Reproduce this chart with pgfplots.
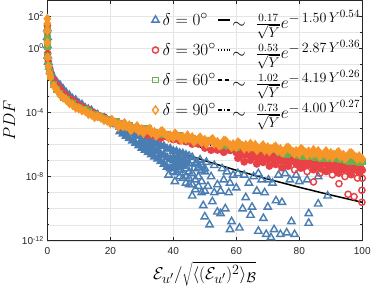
\RequirePackage{fix-cm}
\documentclass[border=0pt]{standalone}
\usepackage[no-math]{fontspec}
\usepackage{pgfplots}
\pgfplotsset{compat=1.18}
\newfontfamily\hv{Liberation Sans}
\DeclareMathSizes{17}{17}{14}{11}
\definecolor{cblue}{RGB}{74,126,178}
\definecolor{cred}{RGB}{232,65,70}
\definecolor{cgreen}{RGB}{106,176,76}
\definecolor{corange}{RGB}{247,150,40}
\definecolor{axgray}{RGB}{38,38,38}
\pgfplotsset{
 mleg/.style={legend image code/.code={\draw[##1] plot coordinates {(0pt,0pt)}; \path (-4pt,0pt) (5pt,0pt);}},
 lleg/.style={legend image code/.code={\draw[##1] (0pt,0pt) -- (12pt,0pt);}},
 sblue/.style={only marks, mark=triangle, mark size=4.2pt, cblue, line width=1.4pt},
 sred/.style={only marks, mark=o, mark size=3.1pt, cred, line width=1.4pt},
 sgreen/.style={only marks, mark=square, mark size=2.7pt, cgreen, line width=1.4pt},
 sorange/.style={only marks, mark=diamond, mark size=4pt, corange, line width=1.4pt},
 lz/.style={black, line width=1.5pt, no marks},
 lt/.style={black, line width=1.5pt, no marks, dash pattern=on 1.3pt off 1.5pt},
 ls/.style={black, line width=1.5pt, no marks, dash pattern=on 4pt off 3pt},
 ln/.style={black, line width=1.5pt, no marks, dash pattern=on 4pt off 2pt on 1.2pt off 2pt},
}
\begin{document}
\begin{tikzpicture}
\begin{axis}[
 scale only axis, width=313pt, height=239pt,
 xmin=0, xmax=100, ymode=log, ymin=1e-12, ymax=1e3,
 xtick={0,20,40,60,80,100}, xticklabels={0,20,40,60,80,100},
 ytick={1e-12,1e-8,1e-4,1,1e2},
 yticklabels={10\textsuperscript{-12},10\textsuperscript{-8},10\textsuperscript{-4},10\textsuperscript{0},10\textsuperscript{2}},
 minor ytick={1e-11,1e-10,1e-9,1e-7,1e-6,1e-5,1e-3,1e-2,1e-1,1e1,1e3},
 grid=both, major grid style={black!10}, minor grid style={black!10},
 tick align=inside, major tick length=3.5pt, minor tick length=2pt,
 tick style={axgray, line width=0.5pt},
 axis line style={axgray, line width=0.6pt},
 ticklabel style={font=\hv\fontsize{10}{12}\selectfont, text=axgray},
 xticklabel style={yshift=-3pt},
 xlabel={$\mathcal{E}_{u'}/\sqrt{\langle(\mathcal{E}_{u'})^2\rangle_{\mathcal{B}}}$},
 ylabel={$PDF$},
 label style={font=\fontsize{17}{20}\selectfont},
 legend columns=2,
 legend cell align=left,
 legend style={draw=none, fill=none, at={(1,1)}, anchor=north east, yshift=-8pt, font=\fontsize{17}{20}\selectfont, row sep=7pt, inner sep=0pt, nodes={inner sep=1.5pt}, /tikz/every even column/.append style={column sep=0pt}},
]
% delta = 0 (dense part)
\addplot[sblue, mark=triangle*, forget plot] coordinates {
(0.0001,17.0)(0.001,5.13)(0.01,1.51)(0.1,0.347)(0.3,0.141)(0.6,7.08e-2)
(1,3.98e-2)(2,1.55e-2)(3,7.94e-3)(4,5.13e-3)(5,2.95e-3)(6,1.70e-3)(7,1.17e-3)(8,7.24e-4)(9,5.89e-4)(10,3.80e-4)
(11,3.09e-4)(12,1.95e-4)(13,1.62e-4)(14,1.35e-4)(15,8.32e-5)(16,7.24e-5)(17,4.79e-5)(18,4.57e-5)(19,3.31e-5)(20,2.88e-5)
(21,1.95e-5)(22,1.74e-5)
(23,1.23e-5)(23,6.46e-6)(24,8.71e-6)(24,4.68e-6)(25,8.51e-6)(25,3.39e-6)(26,5.50e-6)(26,2.45e-6)(27,5.25e-6)(27,1.74e-6)(28,3.55e-6)(28,1.23e-6)(29,3.47e-6)(29,8.71e-7)
(30,2.24e-6)(30,6.03e-7)(30,1.12e-6)(31,2.24e-6)(31,4.47e-7)(31,1.0e-6)(32,1.55e-6)(32,3.24e-7)(32,7.94e-7)(33,1.62e-6)(33,2.40e-7)(33,5.62e-7)(34,1.12e-6)(34,1.74e-7)(34,4.47e-7)(35,1.12e-6)(35,1.29e-7)(35,3.98e-7)
(36,8.13e-7)(36,8.91e-8)(36,2.51e-7)(37,7.94e-7)(37,6.03e-8)(37,2.24e-7)(38,5.50e-7)(38,3.98e-8)(38,1.58e-7)(39,5.50e-7)(39,3.16e-8)(39,1.26e-7)
(40,3.98e-7)(40,1.0e-7)(40,1.58e-7)(40,4.47e-8)
(41,3.72e-7)(41,7.94e-8)(41,1.26e-7)(41,3.55e-8)
(42,2.95e-7)(42,6.31e-8)(42,1.26e-7)
(43,2.75e-7)(43,4.47e-8)(43,1.0e-7)
(44,2.24e-7)(44,7.94e-8)
};
% delta = 0 (sparse tail)
\addplot[sblue, forget plot] coordinates {
(40,2.00e-8)(41,1.78e-8)(42,1.0e-8)(42,2.51e-8)(43,7.94e-9)(43,1.78e-8)(44,3.98e-9)(44,3.16e-8)(44,1.0e-8)
(45,1.91e-7)(45,3.16e-9)(45,2.00e-8)(45,6.31e-8)(45,7.94e-9)
(38.5,1.26e-8)(40.5,5.01e-9)
(46,1.58e-7)(46,6.31e-10)(46,1.0e-7)(46,1.58e-8)(46,3.16e-9)
(46.5,3.16e-8)(47,1.58e-9)(47,6.31e-8)(47,6.31e-9)(47.5,7.94e-8)
(48,1.0e-8)(48,3.98e-8)(48,2.51e-9)(48.5,1.12e-7)
(49,2.51e-8)(49,5.01e-8)(49,5.01e-9)(49,1.0e-9)(49.5,1.58e-10)
(50,2.00e-8)(50,3.16e-8)(50,1.26e-9)(50,3.16e-11)(50.5,7.94e-8)
(51,2.51e-9)(51.5,1.0e-11)(52,1.0e-8)(52.4,2.75e-10)(53,5.01e-8)(53,1.0e-9)
(54,3.16e-9)(54,6.31e-11)(55,1.26e-9)(55,5.01e-11)(55.5,3.16e-8)(56,6.31e-9)(56.5,1.0e-10)
(57,2.00e-8)(57.6,1.0e-9)(58,5.01e-12)(58,3.98e-9)(58.5,1.58e-11)(59,1.26e-8)
(60,2.00e-9)(60.5,1.58e-8)(61,6.31e-12)(62,1.0e-10)(62.5,1.26e-8)(63,5.01e-10)
(64,3.98e-9)(64.5,3.98e-11)(65,1.26e-10)(65.5,1.0e-8)(66.5,1.26e-9)(67,3.98e-12)(67,1.58e-8)
(68,6.31e-9)(68.6,2.51e-11)(69,1.0e-9)(69.5,2.51e-12)(70,1.26e-10)(70.2,6.31e-9)
(71,1.58e-12)(71.5,3.98e-9)(72,5.01e-12)(72.6,3.16e-10)(73.4,1.26e-8)(74,2.51e-12)(74.5,2.51e-10)
(75.5,1.58e-8)(76,3.16e-12)(77,6.31e-9)(77.5,1.58e-11)(78.5,2.51e-12)(79,1.26e-8)(80,5.01e-9)
(82.5,6.31e-9)(83,5.01e-11)(83,1.26e-11)(86,1.0e-8)(86,2.00e-10)(89,6.31e-10)
};
% delta = 30 (band)
\addplot[sred, mark=*, forget plot] coordinates {
(0.0001,28.2)(0.001,10.0)(0.01,3.09)(0.1,0.479)(0.3,0.151)(0.6,6.31e-2)
(1,3.09e-2)(2,1.10e-2)(3,5.37e-3)(4,3.16e-3)(5,1.70e-3)(6,1.17e-3)(7,7.24e-4)(8,6.03e-4)(9,4.17e-4)(10,2.82e-4)
(11,2.34e-4)(12,1.58e-4)(13,1.55e-4)(14,1.07e-4)(15,9.12e-5)(16,6.31e-5)(17,5.75e-5)(18,5.37e-5)(19,3.63e-5)(20,3.39e-5)
(21,2.40e-5)(22,2.51e-5)(23,1.95e-5)(24,1.86e-5)(25,1.32e-5)(26,1.26e-5)(27,9.55e-6)(28,1.07e-5)(29,8.71e-6)(30,6.61e-6)
(32,3.80e-6)(34,3.63e-6)(36,2.51e-6)(38,3.02e-6)(40,2.04e-6)(42,1.74e-6)(44,1.51e-6)(46,1.07e-6)(48,1.10e-6)(50,6.03e-7)
(52,4.47e-7)(54,4.57e-7)(56,3.31e-7)(58,4.37e-7)(60,3.16e-7)
(61,1.78e-7)(62,3.09e-7)(63,2.24e-7)(64,2.88e-7)(65,1.55e-7)(66,2.00e-7)(67,1.23e-7)(68,2.40e-7)(69,1.91e-7)(70,1.17e-7)
(71,1.35e-7)(72,8.32e-8)(73,1.55e-7)(74,9.55e-8)(75,1.15e-7)(76,6.92e-8)(77,8.51e-8)(78,1.17e-7)(79,6.03e-8)(80,7.94e-8)
(81,3.98e-8)(82,7.94e-8)(83,5.50e-8)(84,7.76e-8)(85,3.80e-8)(86,5.37e-8)(87,3.02e-8)(88,7.08e-8)(89,5.50e-8)(90,3.09e-8)
(91,3.80e-8)(92,2.14e-8)(93,4.79e-8)(94,2.75e-8)(95,3.47e-8)(96,1.91e-8)(97,2.57e-8)(98,3.80e-8)(99,1.78e-8)(100,2.51e-8)
(60.5,1.41e-7)(62.5,8.32e-8)(64.5,1.05e-7)(66.5,6.17e-8)(68.5,7.76e-8)(70.5,4.57e-8)(72.5,5.75e-8)(74.5,3.55e-8)(76.5,4.47e-8)
(80.5,3.39e-8)(84.5,2.69e-8)(88.5,2.09e-8)(92.5,1.66e-8)(96.5,1.32e-8)
(61.5,4.07e-7)(63.5,3.55e-7)(65.5,3.02e-7)(67.5,2.63e-7)(69.5,2.24e-7)(71.5,1.95e-7)(73.5,1.74e-7)(75.5,1.51e-7)(77.5,1.32e-7)(79.5,1.15e-7)
(81.5,1.02e-7)(83.5,8.91e-8)(85.5,7.94e-8)(87.5,7.08e-8)(89.5,6.17e-8)(91.5,5.50e-8)(93.5,4.90e-8)(95.5,4.37e-8)(97.5,3.89e-8)(99.5,3.47e-8)
};
% delta = 30 (sparse lower edge and outliers)
\addplot[sred, forget plot] coordinates {
(78.5,2.69e-8)(82.5,2.09e-8)(86.5,1.62e-8)(90.5,1.29e-8)(94.5,1.02e-8)(98.5,8.13e-9)
(84.5,4.68e-9)(92.6,3.63e-9)(95.5,7.94e-10)(97.4,5.62e-10)(99.9,1.41e-9)(99.9,2.51e-10)(100,7.94e-9)
};
% delta = 60
\addplot[sgreen, mark=square*, forget plot] coordinates {
(0.0003,12.6)(0.002,3.98)(0.02,1.26)(0.1,0.324)(0.3,8.71e-2)(0.6,3.35e-2)
(1,1.74e-2)(2,5.75e-3)(3,2.69e-3)(4,1.62e-3)(5,8.91e-4)(6,6.92e-4)(7,4.57e-4)(8,3.63e-4)(9,2.45e-4)(10,2.00e-4)
(11,1.45e-4)(12,1.48e-4)(13,1.15e-4)(14,8.13e-5)(15,7.08e-5)(16,5.25e-5)(17,5.62e-5)(18,4.17e-5)(19,3.89e-5)(20,2.82e-5)
(21,2.75e-5)(22,2.69e-5)(23,1.95e-5)(24,1.91e-5)(25,1.41e-5)(26,1.55e-5)(27,1.26e-5)(28,1.26e-5)(29,9.55e-6)(30,9.55e-6)
(32,9.55e-6)(34,5.75e-6)(36,4.17e-6)(38,4.07e-6)(40,2.95e-6)(42,3.72e-6)(44,2.75e-6)(46,2.45e-6)(48,2.19e-6)(50,1.66e-6)
(52,1.74e-6)(54,1.10e-6)(56,8.51e-7)(58,8.71e-7)(60,6.76e-7)(62,8.71e-7)(64,6.61e-7)(66,6.17e-7)(68,5.75e-7)(70,4.57e-7)
(72,4.90e-7)(74,3.16e-7)(76,2.51e-7)(78,2.69e-7)(80,2.14e-7)(81,1.78e-7)(82,2.82e-7)(83,1.66e-7)(84,2.19e-7)(85,1.58e-7)
(86,2.09e-7)(87,1.41e-7)(88,2.00e-7)(89,1.32e-7)(90,1.58e-7)(91,1.26e-7)(92,1.74e-7)(93,1.12e-7)(94,1.15e-7)(95,1.05e-7)
(96,9.33e-8)(97,8.91e-8)(98,1.00e-7)(99,7.94e-8)(100,8.13e-8)
};
% delta = 90
\addplot[sorange, mark=diamond*, forget plot] coordinates {
(0.0001,70.8)(0.0003,35.5)(0.001,12.6)(0.01,2.29)(0.1,0.269)(0.3,7.41e-2)(0.6,2.88e-2)
(1,1.62e-2)(2,4.57e-3)(3,2.51e-3)(4,1.29e-3)(5,8.51e-4)(6,6.17e-4)(7,3.80e-4)(8,3.02e-4)(9,2.00e-4)(10,1.78e-4)
(11,1.35e-4)(12,1.23e-4)(13,8.13e-5)(14,7.41e-5)(15,5.13e-5)(16,5.89e-5)(17,4.68e-5)(18,3.39e-5)(19,3.09e-5)(20,2.24e-5)
(21,2.57e-5)(22,1.95e-5)(23,1.91e-5)(24,1.38e-5)(25,1.38e-5)(26,1.59e-5)(27,9.77e-6)(28,1.10e-5)(29,6.92e-6)(30,9.33e-6)
(31,7.24e-6)(32,8.32e-6)(33,5.37e-6)(34,6.03e-6)(35,4.27e-6)(36,6.31e-6)(37,5.25e-6)(38,3.63e-6)(39,3.80e-6)(40,2.69e-6)
(41,3.98e-6)(42,2.82e-6)(43,3.09e-6)(44,2.14e-6)(45,2.40e-6)(46,2.88e-6)(47,1.82e-6)(48,2.14e-6)(49,1.38e-6)(50,1.95e-6)
(51,1.55e-6)(52,1.91e-6)(53,1.15e-6)(54,1.45e-6)(55,9.55e-7)(56,1.70e-6)(57,1.38e-6)(58,9.33e-7)(59,1.05e-6)(60,6.92e-7)
(61,1.17e-6)(62,7.94e-7)(63,9.33e-7)(64,6.03e-7)(65,7.41e-7)(66,9.55e-7)(67,5.62e-7)(68,7.08e-7)(69,4.27e-7)(70,6.76e-7)
(71,5.25e-7)(72,6.61e-7)(73,4.07e-7)(74,5.13e-7)(75,3.47e-7)(76,6.17e-7)(77,5.13e-7)(78,3.47e-7)(79,3.98e-7)(80,2.69e-7)
(81,4.68e-7)(82,3.16e-7)(83,3.72e-7)(84,2.45e-7)(85,3.02e-7)(86,3.98e-7)(87,2.34e-7)(88,2.95e-7)(89,1.82e-7)(90,2.95e-7)
(91,2.29e-7)(92,2.95e-7)(93,1.82e-7)(94,2.29e-7)(95,1.58e-7)(96,2.82e-7)(97,2.40e-7)(98,1.62e-7)(99,1.86e-7)(100,1.26e-7)
(20.5,3.55e-5)(22.5,1.26e-5)(24.5,2.19e-5)(26.5,7.94e-6)(28.5,1.41e-5)(30.5,5.25e-6)(32.5,9.77e-6)(34.5,3.72e-6)(36.5,6.92e-6)(38.5,2.63e-6)
(40.5,4.90e-6)(42.5,1.95e-6)(44.5,3.72e-6)(46.5,1.48e-6)(48.5,2.82e-6)(50.5,1.12e-6)(52.5,2.19e-6)(54.5,8.91e-7)(56.5,1.74e-6)(58.5,6.92e-7)
(60.5,1.38e-6)(62.5,5.62e-7)(64.5,1.12e-6)(66.5,4.57e-7)(68.5,9.12e-7)(70.5,3.80e-7)(72.5,7.59e-7)(74.5,3.16e-7)(76.5,6.31e-7)(78.5,2.63e-7)
(80.5,5.37e-7)(82.5,2.24e-7)(84.5,4.57e-7)(86.5,1.91e-7)(88.5,3.89e-7)(90.5,1.66e-7)(92.5,3.39e-7)(94.5,1.41e-7)(96.5,2.88e-7)(98.5,1.23e-7)
};
% fits
\addplot[lz, forget plot] coordinates {
(0.03,0.783)(0.1,0.348)(0.2,0.203)(0.5,8.57e-2)(1,3.79e-2)(2,1.36e-2)(3,6.50e-3)(4,3.56e-3)(5,2.12e-3)(6,1.34e-3)(7,8.81e-4)(8,5.97e-4)(10,2.96e-4)(15,6.76e-5)(20,1.98e-5)(25,6.70e-6)(30,2.54e-6)(40,4.51e-7)(50,9.86e-8)(60,2.49e-8)(70,7.05e-9)(80,2.17e-9)(90,7.14e-10)(100,2.50e-10)
};
\addplot[lt, forget plot] coordinates {
(0.03,1.36)(0.1,0.479)(0.2,0.237)(0.5,8.02e-2)(1,3.01e-2)(2,9.42e-3)(3,4.32e-3)(4,2.34e-3)(5,1.41e-3)(6,9.10e-4)(7,6.17e-4)(8,4.35e-4)(10,2.34e-4)(15,6.79e-5)(20,2.56e-5)(25,1.13e-5)(30,5.56e-6)(40,1.66e-6)(50,6.00e-7)(60,2.47e-7)(70,1.12e-7)(80,5.45e-8)(90,2.81e-8)(100,1.52e-8)
};
\addplot[ls, forget plot] coordinates {
(0.03,1.09)(0.1,0.323)(0.2,0.145)(0.5,4.36e-2)(1,1.55e-2)(2,4.78e-3)(3,2.23e-3)(4,1.25e-3)(5,7.83e-4)(6,5.25e-4)(7,3.70e-4)(8,2.71e-4)(10,1.57e-4)(15,5.51e-5)(20,2.47e-5)(25,1.28e-5)(30,7.31e-6)(40,2.88e-6)(50,1.34e-6)(60,6.98e-7)(70,3.93e-7)(80,2.35e-7)(90,1.48e-7)(100,9.62e-8)
};
\addplot[ln, forget plot] coordinates {
(0.03,0.893)(0.1,0.269)(0.2,0.122)(0.5,3.74e-2)(1,1.34e-2)(2,4.15e-3)(3,1.94e-3)(4,1.09e-3)(5,6.78e-4)(6,4.53e-4)(7,3.18e-4)(8,2.32e-4)(10,1.34e-4)(15,4.63e-5)(20,2.05e-5)(25,1.05e-5)(30,5.93e-6)(40,2.29e-6)(50,1.04e-6)(60,5.33e-7)(70,2.95e-7)(80,1.74e-7)(90,1.08e-7)(100,6.92e-8)
};
% legend
\addlegendimage{sblue, mleg}\addlegendentry{$\delta = 0^\circ$}
\addlegendimage{lz, lleg}\addlegendentry{$\sim\ \frac{\scriptscriptstyle 0.17}{\sqrt{Y}}e^{-\,1.50\,Y^{0.54}}$}
\addlegendimage{sred, mleg}\addlegendentry{$\delta = 30^\circ$}
\addlegendimage{lt, lleg}\addlegendentry{$\sim\ \frac{\scriptscriptstyle 0.53}{\sqrt{Y}}e^{-\,2.87\,Y^{0.36}}$}
\addlegendimage{sgreen, mleg}\addlegendentry{$\delta = 60^\circ$}
\addlegendimage{ls, lleg}\addlegendentry{$\sim\ \frac{\scriptscriptstyle 1.02}{\sqrt{Y}}e^{-\,4.19\,Y^{0.26}}$}
\addlegendimage{sorange, mleg}\addlegendentry{$\delta = 90^\circ$}
\addlegendimage{ln, lleg}\addlegendentry{$\sim\ \frac{\scriptscriptstyle 0.73}{\sqrt{Y}}e^{-\,4.00\,Y^{0.27}}$}
\end{axis}
\end{tikzpicture}
\end{document}
